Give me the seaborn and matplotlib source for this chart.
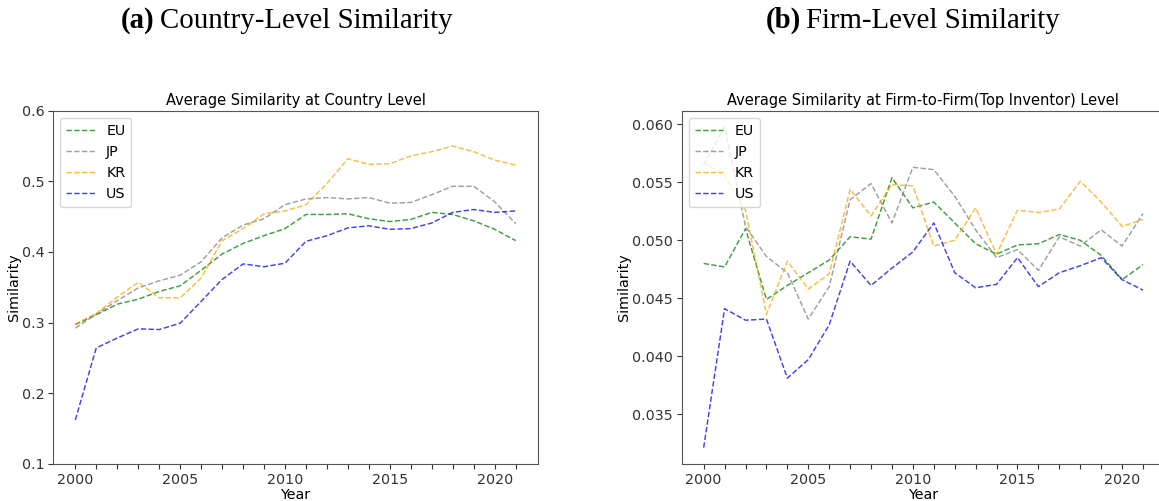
import numpy as np
import pandas as pd
import matplotlib
matplotlib.use("Agg")
import matplotlib.pyplot as plt
import seaborn as sns

years = list(range(2000, 2022))
regions = ["EU", "JP", "KR", "US"]
colors = {"EU": "green", "JP": "gray", "KR": "orange", "US": "blue"}

# Country-level similarity
country_eu = [0.297, 0.311, 0.326, 0.333, 0.344, 0.352, 0.374, 0.397, 0.412, 0.423, 0.433,
              0.453, 0.453, 0.454, 0.447, 0.443, 0.446, 0.456, 0.453, 0.444, 0.432, 0.416]
country_jp = [0.292, 0.312, 0.331, 0.349, 0.359, 0.367, 0.386, 0.420, 0.438, 0.447, 0.467,
              0.475, 0.477, 0.475, 0.477, 0.469, 0.470, 0.481, 0.493, 0.493, 0.471, 0.440]
country_kr = [0.298, 0.313, 0.336, 0.357, 0.335, 0.335, 0.363, 0.416, 0.433, 0.454, 0.458,
              0.467, 0.497, 0.532, 0.524, 0.525, 0.536, 0.542, 0.550, 0.542, 0.530, 0.523]
country_us = [0.162, 0.264, 0.278, 0.291, 0.290, 0.299, 0.330, 0.361, 0.383, 0.379, 0.384,
              0.415, 0.423, 0.434, 0.437, 0.432, 0.433, 0.441, 0.456, 0.460, 0.456, 0.458]

# Firm-level similarity
firm_eu = [0.0480, 0.0477, 0.0510, 0.0449, 0.0461, 0.0472, 0.0483, 0.0503, 0.0501, 0.0554, 0.0528,
           0.0533, 0.0515, 0.0497, 0.0488, 0.0496, 0.0497, 0.0505, 0.0500, 0.0487, 0.0466, 0.0479]
firm_jp = [0.0565, 0.0598, 0.0512, 0.0486, 0.0472, 0.0432, 0.0460, 0.0535, 0.0549, 0.0515, 0.0563,
           0.0561, 0.0538, 0.0509, 0.0485, 0.0492, 0.0474, 0.0503, 0.0495, 0.0509, 0.0495, 0.0523]
firm_kr = [0.0567, 0.0556, 0.0526, 0.0436, 0.0482, 0.0458, 0.0471, 0.0544, 0.0521, 0.0548, 0.0547,
           0.0495, 0.0500, 0.0528, 0.0488, 0.0526, 0.0524, 0.0527, 0.0551, 0.0533, 0.0512, 0.0518]
firm_us = [0.0321, 0.0441, 0.0431, 0.0432, 0.0381, 0.0397, 0.0427, 0.0482, 0.0461, 0.0476, 0.0490,
           0.0515, 0.0472, 0.0459, 0.0462, 0.0485, 0.0460, 0.0472, 0.0478, 0.0485, 0.0466, 0.0457]

country = {"EU": country_eu, "JP": country_jp, "KR": country_kr, "US": country_us}
firm = {"EU": firm_eu, "JP": firm_jp, "KR": firm_kr, "US": firm_us}

W, H = 1159, 501
fig = plt.figure(figsize=(W / 100, H / 100), dpi=100)

def px_axes(left, right, top, bottom):
    return fig.add_axes([left / W, 1 - bottom / H, (right - left) / W, (bottom - top) / H])

ax1 = px_axes(53.3, 537.7, 110.7, 463.7)
ax2 = px_axes(681.7, 1165.0, 110.7, 463.7)

FS = 10.3

def draw(ax, data, title, ylim=None):
    for r in regions:
        df = pd.DataFrame({"Year": years, "Similarity": data[r]})
        sns.lineplot(data=df, x="Year", y="Similarity", ax=ax, color=colors[r],
                     linestyle="--", linewidth=1.05, alpha=0.75, label=r)
    ax.set_title(title, fontsize=10.5, pad=4)
    ax.set_xlabel("Year", fontsize=FS, labelpad=1)
    ax.set_ylabel("Similarity", fontsize=FS, labelpad=0.5)
    ax.set_xticks(years)
    ax.set_xticklabels([str(y) if y % 5 == 0 else "" for y in years])
    ax.tick_params(labelsize=FS, length=3.5, width=0.8, colors="#333333", pad=3)
    ax.margins(x=0.05)
    if ylim is not None:
        ax.set_ylim(*ylim)
    for s in ax.spines.values():
        s.set_color("#555555")
        s.set_linewidth(0.8)
    ax.legend(loc="upper left", fontsize=10.3)

draw(ax1, country, "Average Similarity at Country Level", ylim=(0.1, 0.6))
draw(ax2, firm, "Average Similarity at Firm-to-Firm(Top Inventor) Level")

serif = ["Liberation Serif", "DejaVu Serif"]
HFS = 20.8
def header(xpx, letter, text):
    t = fig.text(xpx / W, 1 - 28 / H, letter, family=serif, fontweight="bold",
                 fontsize=HFS, va="baseline", ha="left")
    fig.canvas.draw()
    ext = t.get_window_extent()
    fig.text(ext.x1 / W + 5 / W, 1 - 28 / H, text, family=serif, fontsize=HFS,
             va="baseline", ha="left")

header(121, "(a)", "Country-Level Similarity")
header(766, "(b)", "Firm-Level Similarity")

fig.savefig("out.png", dpi=100)
